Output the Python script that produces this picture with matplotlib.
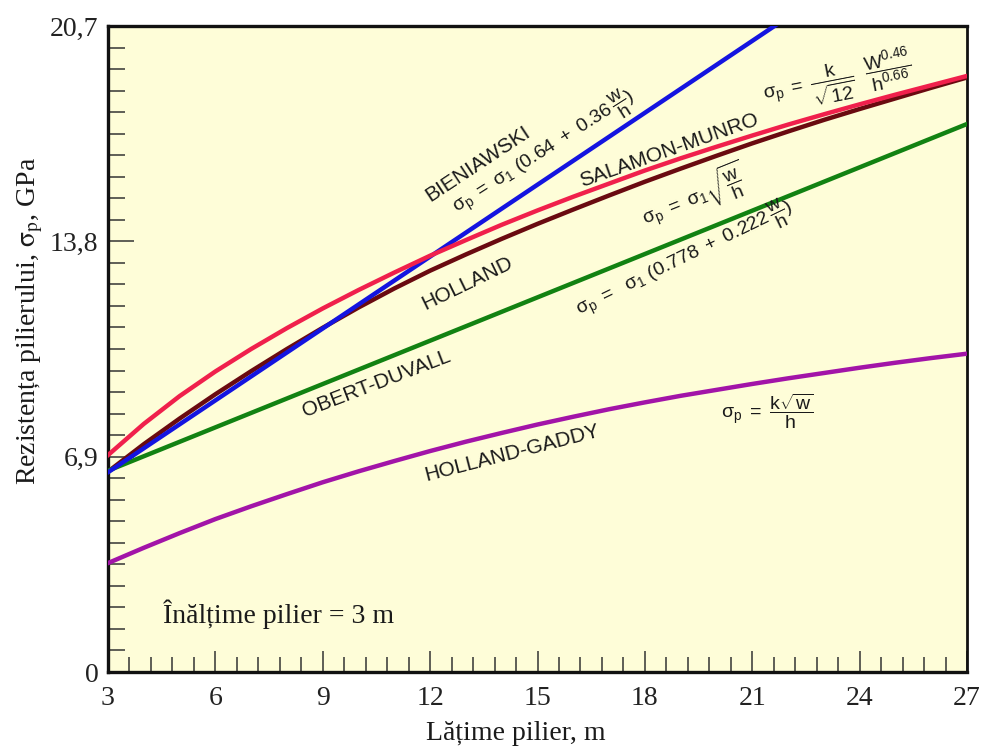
import matplotlib
matplotlib.use('Agg')
import matplotlib.pyplot as plt
from matplotlib.ticker import MultipleLocator

# pillar width, m
latime = [3, 4, 5, 6, 7, 8, 9, 10, 11, 12, 13, 14, 15, 16, 17, 18, 19, 20,
          21, 22, 23, 24, 25, 26, 27]
latime_ends = [3, 27]

# pillar strength, GPa
salamon_munro = [6.95, 7.95, 8.84, 9.63, 10.35, 11.02, 11.65, 12.24, 12.80, 13.34,
                 13.84, 14.33, 14.79, 15.23, 15.65, 16.07, 16.46, 16.83, 17.19,
                 17.54, 17.87, 18.19, 18.50, 18.80, 19.10]
holland = [6.42, 7.30, 8.12, 8.90, 9.64, 10.35, 11.03, 11.68, 12.29, 12.86,
           13.38, 13.88, 14.36, 14.82, 15.27, 15.71, 16.13, 16.54, 16.94,
           17.32, 17.69, 18.04, 18.38, 18.72, 19.05]
holland_gaddy = [3.49, 3.98, 4.45, 4.90, 5.31, 5.70, 6.08, 6.43, 6.76, 7.08,
                 7.38, 7.66, 7.93, 8.18, 8.42, 8.64, 8.85, 9.04, 9.23, 9.41,
                 9.58, 9.75, 9.91, 10.06, 10.20]
bieniawski = [6.40, 24.83]
obert_duvall = [6.45, 17.56]

x_ticks = [3, 6, 9, 12, 15, 18, 21, 24, 27]
y_ticks = [0, 6.9, 13.8, 20.7]
y_tick_labels = ['0', '6,9', '13,8', '20,7']

plt.rcParams['mathtext.fontset'] = 'custom'
plt.rcParams['mathtext.rm'] = 'Liberation Sans'
plt.rcParams['mathtext.it'] = 'Liberation Sans'
plt.rcParams['mathtext.bf'] = 'Liberation Sans:bold'

fig = plt.figure(figsize=(9.83, 7.49), dpi=100)
ax = fig.add_axes([108/983, 77/749, 859/983, 646/749])
ax.set_facecolor('#FEFDD8')

ax.plot(latime, holland, color='#6A0A10', lw=3.2, zorder=3)
ax.plot(latime_ends, obert_duvall, color='#128212', lw=3.2, zorder=3)
ax.plot(latime, holland_gaddy, color='#A214A8', lw=3.2, zorder=3)
ax.plot(latime_ends, bieniawski, color='#1414E0', lw=3.2, zorder=4)
ax.plot(latime, salamon_munro, color='#F0204C', lw=3.2, zorder=5)

ax.set_xlim(3, 27)
ax.set_ylim(0, 20.7)
ax.set_xticks(x_ticks)
ax.set_xticklabels([str(t) for t in x_ticks])
ax.set_yticks(y_ticks)
ax.set_yticklabels(y_tick_labels)
ax.xaxis.set_minor_locator(MultipleLocator(0.6))
ax.yaxis.set_minor_locator(MultipleLocator(0.69))

ax.tick_params(axis='x', which='major', direction='in', length=15, width=1.1,
               color='#333333', pad=10)
ax.tick_params(axis='x', which='minor', direction='in', length=11, width=1.1,
               color='#333333')
ax.tick_params(axis='y', which='major', direction='in', length=19, width=1.1,
               color='#333333', pad=7)
ax.tick_params(axis='y', which='minor', direction='in', length=12, width=1.1,
               color='#333333')
for lbl in ax.get_xticklabels() + ax.get_yticklabels():
    lbl.set_fontfamily('Liberation Serif')
    lbl.set_fontsize(20)
    lbl.set_color('#222222')

for s in ax.spines.values():
    s.set_linewidth(2.4)
    s.set_color('#111111')
ax.spines['right'].set_linewidth(2.0)

# curve labels and formulas
lab = dict(fontfamily='Liberation Sans', fontsize=15, color='#1a1a1a',
           ha='center', va='center', rotation_mode='anchor', transform=ax.transAxes)
frm = dict(lab, fontsize=14)
ax.text(0.431, 0.787, 'BIENIAWSKI', rotation=33.5, **lab)
ax.text(0.508, 0.803,
        r'$\sigma_{\rm p}\ =\ \sigma_{\rm 1}\ (0.64\ +\ 0.36\,\dfrac{\rm w}{\rm h})$',
        rotation=32.5, **frm)
ax.text(0.653, 0.808, 'SALAMON-MUNRO', rotation=19.5, **lab)
ax.text(0.850, 0.915,
        r'$\sigma_{\rm p}\ =\ \dfrac{\rm k}{\sqrt{12}}\ \ \dfrac{\rm W^{0.46}}{\rm h^{0.66}}$',
        rotation=11, **frm)
ax.text(0.682, 0.735, r'$\sigma_{\rm p}\ =\ \sigma_{\rm 1}\sqrt{\dfrac{\rm w}{\rm h}}$',
        rotation=22, **frm)
ax.text(0.418, 0.601, 'HOLLAND', rotation=26, **lab)
ax.text(0.672, 0.638,
        r'$\sigma_{\rm p}\ =\ \ \sigma_{\rm 1}\ (0.778\ +\ 0.222\,\dfrac{\rm w}{\rm h})$',
        rotation=26, **frm)
ax.text(0.312, 0.446, 'OBERT-DUVALL', rotation=21, **lab)
ax.text(0.470, 0.339, 'HOLLAND-GADDY', rotation=14.5, **lab)
ax.text(0.768, 0.404, r'$\sigma_{\rm p}\ =\ \dfrac{\rm k\sqrt{w}}{\rm h}$', rotation=0, **frm)

ax.text(0.064, 0.076, 'Înălțime pilier = 3 m', transform=ax.transAxes,
        fontfamily='Liberation Serif', fontsize=20, color='#1a1a1a',
        ha='left', va='baseline')

fig.text(516/983, 1 - 733/749, 'Lățime pilier, m', fontfamily='Liberation Serif',
         fontsize=20, color='#1a1a1a', ha='center', va='center')
fig.text(30/983, 1 - 321/749, r'Rezistența pilierului, $\mathrm{\sigma_p}$, GPa',
         fontfamily='Liberation Serif', math_fontfamily='stix', fontsize=20,
         color='#1a1a1a', ha='center', va='center', rotation=90)

fig.savefig('out.png', dpi=100)
